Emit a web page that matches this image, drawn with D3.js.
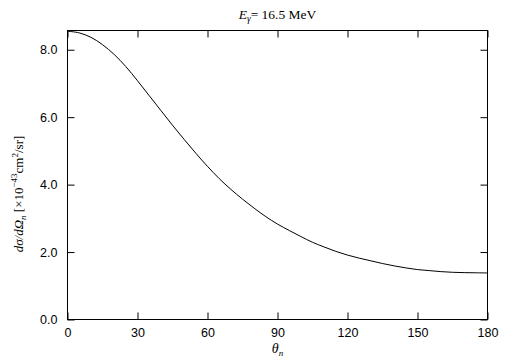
<!DOCTYPE html>
<html>
<head>
<meta charset="utf-8">
<script src="https://cdn.jsdelivr.net/npm/d3@7"></script>
<style>
  body { margin: 0; background: #fff; }
  .tick text { font-family: "Liberation Sans", Arial, sans-serif; font-size: 12.5px; fill: #000; }
  .lbl { font-family: "Liberation Serif", "Times New Roman", serif; fill: #000; }
</style>
</head>
<body>
<script>
//Width and height
var w = 505;
var h = 361;
var margin = {top: 30.5, right: 17.5, bottom: 41.5, left: 67.5};

//angle of neutron (deg) and cross section (x10^-43 cm^2/sr)
var theta = [0, 5, 10, 15, 20, 25, 30, 35, 40, 45, 50, 55, 60, 65, 70, 75, 80, 85, 90,
             95, 100, 105, 110, 115, 120, 125, 130, 135, 140, 145, 150, 155, 160, 165, 170, 175, 180];
var sigma = [8.55, 8.50, 8.37, 8.15, 7.86, 7.50, 7.08, 6.64, 6.20, 5.76, 5.34, 4.93, 4.54, 4.18, 3.86, 3.57, 3.30, 3.05, 2.83,
             2.64, 2.46, 2.29, 2.15, 2.02, 1.91, 1.82, 1.74, 1.66, 1.59, 1.53, 1.48, 1.45, 1.42, 1.40, 1.39, 1.385, 1.38];

//tick values
var xTicks = [0, 30, 60, 90, 120, 150, 180];
var yTicks = [0, 2, 4, 6, 8];

var iw = w - margin.left - margin.right;
var ih = h - margin.top - margin.bottom;

var x = d3.scaleLinear().domain([0, 180]).range([0, iw]);
var y = d3.scaleLinear().domain([0, 8.57]).range([ih, 0]);

var svg = d3.select("body")
            .append("svg")
            .attr("width", w)
            .attr("height", h);

var g = svg.append("g")
           .attr("transform", "translate(" + margin.left + "," + margin.top + ")");

//axes with ticks pointing inward
g.append("g")
 .attr("transform", "translate(0," + ih + ")")
 .call(d3.axisBottom(x).tickValues(xTicks).tickSizeInner(-7).tickSizeOuter(0).tickPadding(9));
g.append("g")
 .call(d3.axisTop(x).tickValues(xTicks).tickSizeInner(-7).tickSizeOuter(0).tickFormat(""));
g.append("g")
 .call(d3.axisLeft(y).tickValues(yTicks).tickSizeInner(-7).tickSizeOuter(0).tickPadding(10).tickFormat(d3.format(".1f")));
g.append("g")
 .attr("transform", "translate(" + iw + ",0)")
 .call(d3.axisRight(y).tickValues(yTicks).tickSizeInner(-7).tickSizeOuter(0).tickFormat(""));

g.selectAll(".domain").remove();
g.selectAll(".tick line").attr("stroke", "#000");

//frame
g.append("rect")
 .attr("width", iw)
 .attr("height", ih)
 .attr("fill", "none")
 .attr("stroke", "#000");

//curve
var line = d3.line()
             .x(function(d, i) { return x(theta[i]); })
             .y(function(d) { return y(d); })
             .curve(d3.curveCatmullRom);

g.append("path")
 .datum(sigma)
 .attr("d", line)
 .attr("fill", "none")
 .attr("stroke", "#000")
 .attr("stroke-width", 1);

//title
var title = svg.append("text")
               .attr("class", "lbl")
               .attr("x", margin.left + iw / 2)
               .attr("y", 19)
               .attr("text-anchor", "middle")
               .style("font-size", "13.5px");
title.append("tspan").style("font-style", "italic").text("E");
title.append("tspan").style("font-style", "italic").style("font-size", "9.5px").attr("dy", 3).text("γ");
title.append("tspan").attr("dy", -3).text("= 16.5 MeV");

//x label
var xl = svg.append("text")
            .attr("class", "lbl")
            .attr("x", margin.left + iw / 2)
            .attr("y", 353)
            .attr("text-anchor", "middle")
            .style("font-size", "14px")
            .style("font-style", "italic");
xl.append("tspan").text("θ");
xl.append("tspan").attr("dy", 3).style("font-size", "9px").text("n");

//y label
var yl = svg.append("text")
            .attr("class", "lbl")
            .attr("transform", "translate(23,194) rotate(-90)")
            .attr("text-anchor", "middle")
            .style("font-size", "13px");
yl.append("tspan").style("font-style", "italic").text("dσ/d");
yl.append("tspan").style("font-style", "italic").text("Ω");
yl.append("tspan").style("font-style", "italic").style("font-size", "9px").attr("dy", 3).text("n");
yl.append("tspan").attr("dy", -3).text(" [×10");
yl.append("tspan").style("font-size", "9px").attr("dy", -6).text("−43");
yl.append("tspan").attr("dy", 6).text("cm");
yl.append("tspan").style("font-size", "9px").attr("dy", -5).text("2");
yl.append("tspan").attr("dy", 5).text("/sr]");
</script>
</body>
</html>
